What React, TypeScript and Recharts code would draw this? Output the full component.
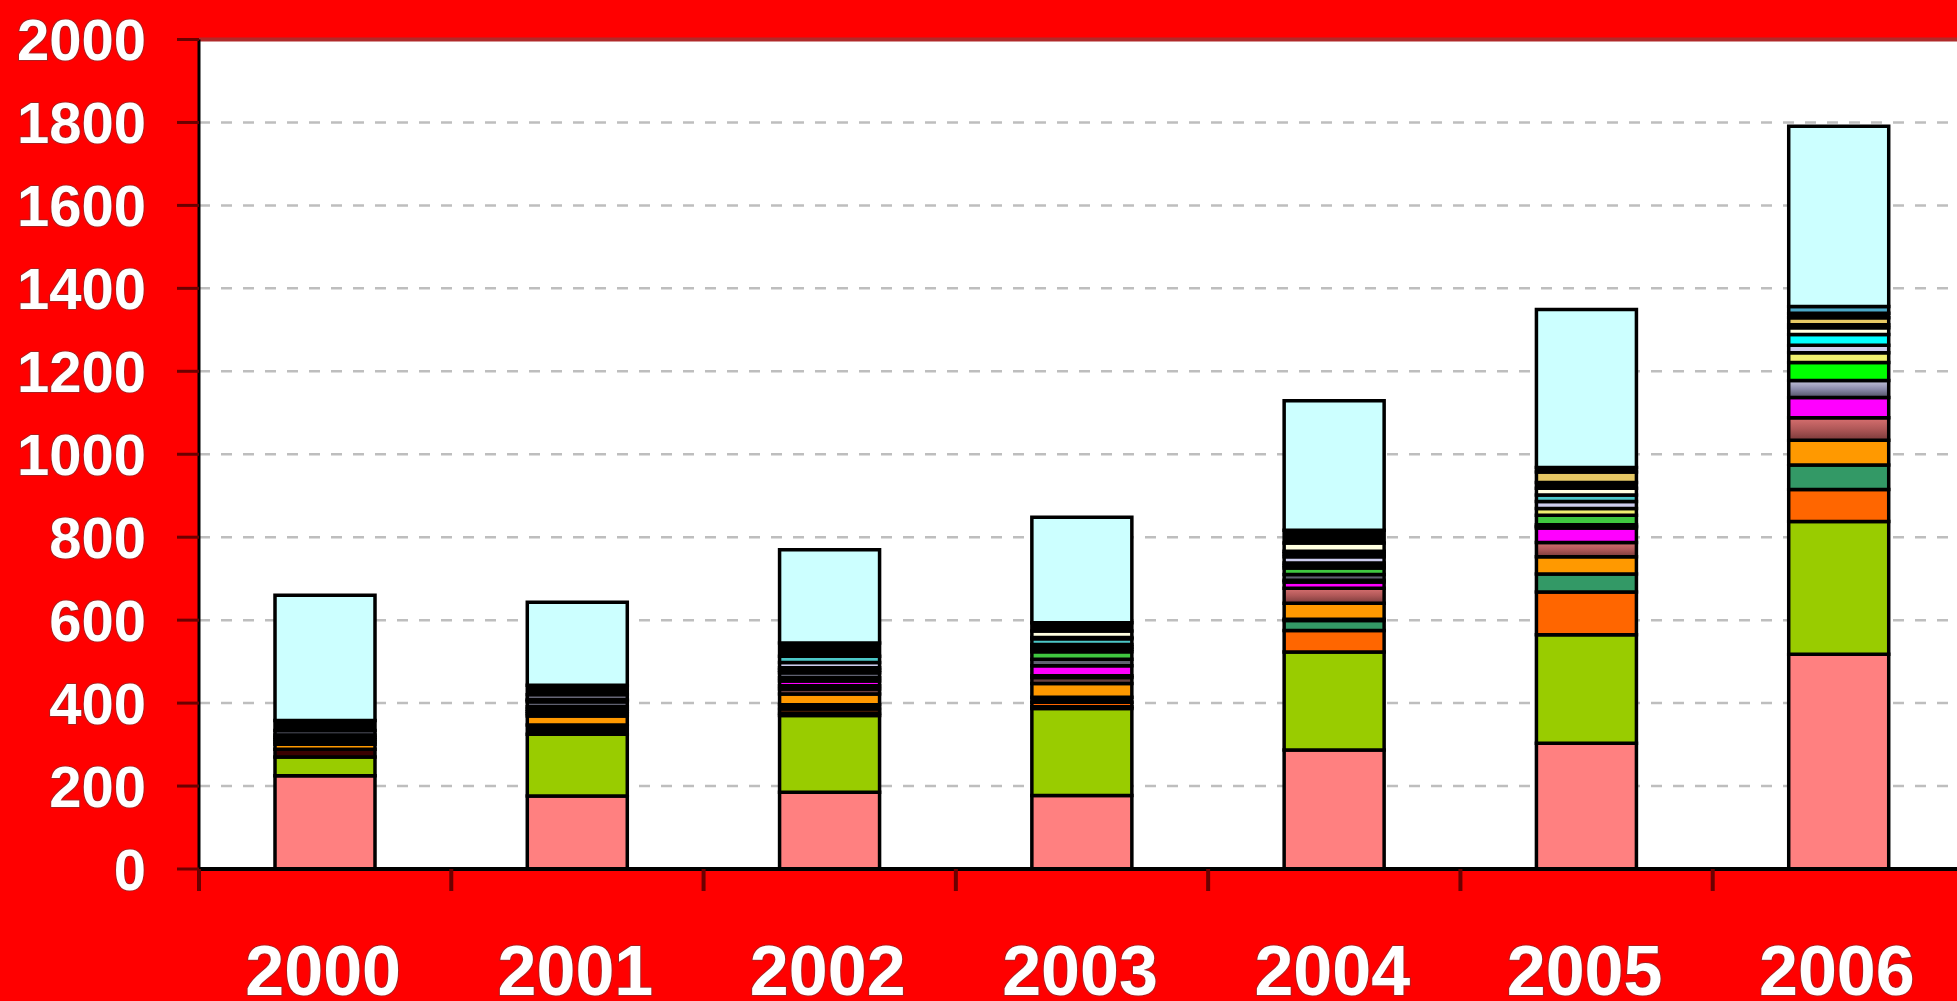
import React from 'react';
import { BarChart, Bar, XAxis, YAxis, CartesianGrid, ReferenceLine } from 'recharts';

const YEARS = ['2000', '2001', '2002', '2003', '2004', '2005', '2006'];
const Y_TICKS = [0, 200, 400, 600, 800, 1000, 1200, 1400, 1600, 1800, 2000];

// series values, bottom of stack to top, one value per year
const pink = [225, 176, 185, 177, 287, 303, 518];
const lime = [45, 149, 185, 210, 236, 262, 320];
const maroon = [19, 0, 6, 4, 0, 0, 0];
const orangeRed = [0, 0, 10, 11, 52, 103, 77];
const seaGreen = [0, 0, 0, 0, 24, 43, 59];
const blackA = [0, 22, 10, 12, 3, 0, 0];
const orange = [12, 22, 26, 33, 39, 42, 60];
const darkBrown = [6, 6, 12, 15, 0, 0, 0];
const rosy = [5, 5, 8, 4, 36, 34, 54];
const magenta = [5, 5, 11, 24, 15, 35, 49];
const navy = [6, 6, 8, 0, 4, 4, 0];
const gray = [11, 12, 12, 16, 14, 4, 0];
const periwinkle = [0, 0, 0, 0, 0, 0, 41];
const green = [0, 3, 6, 18, 16, 23, 0];
const brightGreen = [0, 3, 6, 6, 6, 0, 43];
const yellow = [0, 0, 0, 5, 6, 16, 24];
const lavender = [0, 11, 13, 6, 15, 17, 18];
const teal = [0, 0, 15, 14, 7, 16, 0];
const cyan = [0, 0, 0, 3, 6, 0, 26];
const cream = [0, 0, 0, 16, 20, 16, 16];
const blackB = [0, 0, 0, 0, 0, 14, 7];
const tan = [0, 0, 0, 0, 0, 25, 17];
const blackC = [24, 23, 32, 20, 31, 11, 11];
const steelBlue = [0, 0, 0, 0, 0, 0, 16];
const lightCyan = [302, 200, 225, 254, 312, 381, 435];

const SERIES = [
  { key: 'pink', values: pink, fill: '#FF8080' },
  { key: 'lime', values: lime, fill: '#99CC00' },
  { key: 'maroon', values: maroon, fill: '#3A0000' },
  { key: 'orangeRed', values: orangeRed, fill: '#FF6600' },
  { key: 'seaGreen', values: seaGreen, fill: '#339966' },
  { key: 'blackA', values: blackA, fill: '#000000' },
  { key: 'orange', values: orange, fill: '#FF9900' },
  { key: 'darkBrown', values: darkBrown, fill: '#6A4040' },
  { key: 'rosy', values: rosy, fill: 'url(#rosyGrad)' },
  { key: 'magenta', values: magenta, fill: '#FF00FF' },
  { key: 'navy', values: navy, fill: '#000022' },
  { key: 'gray', values: gray, fill: '#5F6070' },
  { key: 'periwinkle', values: periwinkle, fill: 'url(#periGrad)' },
  { key: 'green', values: green, fill: '#40C840' },
  { key: 'brightGreen', values: brightGreen, fill: '#00FF00' },
  { key: 'yellow', values: yellow, fill: '#F0F070' },
  { key: 'lavender', values: lavender, fill: '#CCCCEE' },
  { key: 'teal', values: teal, fill: '#4CC8C8' },
  { key: 'cyan', values: cyan, fill: '#00FFFF' },
  { key: 'cream', values: cream, fill: '#FFFFE0' },
  { key: 'blackB', values: blackB, fill: '#000000' },
  { key: 'tan', values: tan, fill: '#E6C864' },
  { key: 'blackC', values: blackC, fill: '#000000' },
  { key: 'steelBlue', values: steelBlue, fill: '#4AA8C8' },
  { key: 'lightCyan', values: lightCyan, fill: '#CCFFFF' },
];

const data = YEARS.map((year, i) => {
  const row: Record<string, string | number> = { year };
  SERIES.forEach((s) => {
    row[s.key] = s.values[i];
  });
  return row;
});

const FONT = '"Liberation Sans", Arial, Helvetica, sans-serif';
const TICK_LEN = 22;
const X_LABEL_GAP = 54;
const TICK_COLOR = '#6B0000';

function YTick(props: any) {
  const { x, y, payload } = props;
  return (
    <text
      x={x}
      y={y}
      dy="0.36em"
      textAnchor="end"
      fill="#FFFFFF"
      stroke="#A82222"
      strokeWidth={2}
      style={{ paintOrder: 'stroke' }}
      fontFamily={FONT}
      fontWeight={700}
      fontSize={58}
    >
      {payload.value}
    </text>
  );
}

function XTick(props: any) {
  const { x, y, payload, width, visibleTicksCount } = props;
  const half = payload && payload.offset ? payload.offset : width / (visibleTicksCount || YEARS.length) / 2;
  const axisY = y - TICK_LEN - X_LABEL_GAP;
  return (
    <g>
      <line x1={x - half} x2={x - half} y1={axisY} y2={axisY + TICK_LEN} stroke={TICK_COLOR} strokeWidth={4} />
      <text
        x={x - 2}
        y={y}
        dy="0.71em"
        textAnchor="middle"
        fill="#FFFFFF"
        stroke="#A82222"
        strokeWidth={2}
        style={{ paintOrder: 'stroke' }}
        fontFamily={FONT}
        fontWeight={700}
        fontSize={70}
      >
        {payload.value}
      </text>
    </g>
  );
}

export default function App() {
  return (
    <div
      style={{
        position: 'fixed',
        left: 0,
        top: 0,
        width: 1957,
        height: 1001,
        overflow: 'hidden',
        background: '#FF0000',
      }}
    >
      <BarChart
        width={1970}
        height={1001}
        data={data}
        margin={{ top: 39.5, right: 5, bottom: 0, left: 0 }}
        barSize={100}
      >
        <defs>
          <linearGradient id="rosyGrad" x1="0" y1="0" x2="0" y2="1">
            <stop offset="0%" stopColor="#D87070" />
            <stop offset="50%" stopColor="#B05858" />
            <stop offset="100%" stopColor="#7A3A3A" />
          </linearGradient>
          <linearGradient id="periGrad" x1="0" y1="0" x2="0" y2="1">
            <stop offset="0%" stopColor="#C4C4DC" />
            <stop offset="50%" stopColor="#8C8CAC" />
            <stop offset="100%" stopColor="#505064" />
          </linearGradient>
        </defs>
        <CartesianGrid
          vertical={false}
          fill="#FFFFFF"
          stroke="#BEBEBE"
          strokeWidth={2.5}
          strokeDasharray="11 11"
        />
        <XAxis
          dataKey="year"
          height={132}
          tickSize={TICK_LEN}
          tickMargin={X_LABEL_GAP}
          tickLine={false}
          axisLine={{ stroke: '#000000', strokeWidth: 4 }}
          tick={XTick}
          interval={0}
        />
        <YAxis
          type="number"
          domain={[0, 2000]}
          ticks={Y_TICKS}
          interval={0}
          width={199}
          tickSize={TICK_LEN}
          tickMargin={31}
          axisLine={{ stroke: '#000000', strokeWidth: 3 }}
          tickLine={{ stroke: TICK_COLOR, strokeWidth: 3 }}
          tick={YTick}
          allowDataOverflow
        />
        <ReferenceLine y={2000} stroke="#B02A2A" strokeWidth={4} />
        {SERIES.map((s) => (
          <Bar
            key={s.key}
            dataKey={s.key}
            stackId="a"
            fill={s.fill}
            stroke="#000000"
            strokeWidth={3.5}
            isAnimationActive={false}
          />
        ))}
      </BarChart>
    </div>
  );
}
